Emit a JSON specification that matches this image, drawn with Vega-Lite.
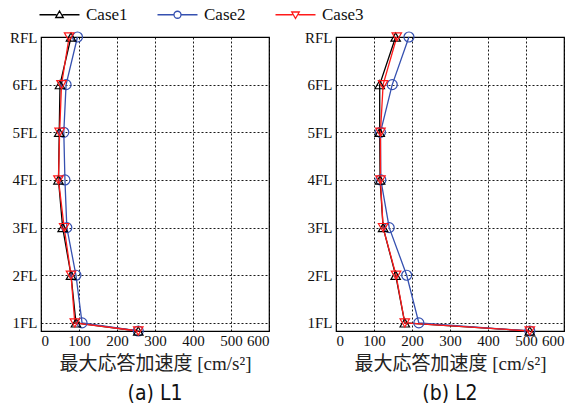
{
  "$schema": "https://vega.github.io/schema/vega-lite/v6.json",
  "padding": {"left": 8, "top": 6, "right": 5, "bottom": 0},
  "spacing": 33,
  "config": {
    "view": {"stroke": "#000000", "strokeWidth": 1.2},
    "axis": {
      "labelFont": "Liberation Serif",
      "labelFontSize": 15,
      "labelColor": "#111111",
      "ticks": false,
      "domain": false,
      "grid": true,
      "gridColor": "#000000",
      "gridDash": [2, 2],
      "gridWidth": 0.9,
      "gridOpacity": 1,
      "titleFont": "Liberation Serif, Noto Sans CJK JP",
      "titleFontSize": 19,
      "titleFontWeight": "normal",
      "titleColor": "#222222"
    },
    "legend": {
      "title": null, "labelFont": "Liberation Serif", "labelFontSize": 17, "labelColor": "#111111",
      "symbolStrokeWidth": 1.3, "symbolSize": 100, "symbolOpacity": 1
    },
    "title": {"font": "DejaVu Sans Condensed, Noto Sans", "fontSize": 21, "fontWeight": "normal", "color": "#111111"}
  },
  "data": {"values": [
    {"panel": "L1", "case": "Case1", "level": 0.83, "acc": 256},
    {"panel": "L1", "case": "Case1", "level": 1, "acc": 92},
    {"panel": "L1", "case": "Case1", "level": 2, "acc": 79},
    {"panel": "L1", "case": "Case1", "level": 3, "acc": 57},
    {"panel": "L1", "case": "Case1", "level": 4, "acc": 46},
    {"panel": "L1", "case": "Case1", "level": 5, "acc": 48},
    {"panel": "L1", "case": "Case1", "level": 6, "acc": 50},
    {"panel": "L1", "case": "Case1", "level": 7, "acc": 79},
    {"panel": "L1", "case": "Case2", "level": 0.83, "acc": 256},
    {"panel": "L1", "case": "Case2", "level": 1, "acc": 108},
    {"panel": "L1", "case": "Case2", "level": 2, "acc": 92},
    {"panel": "L1", "case": "Case2", "level": 3, "acc": 68},
    {"panel": "L1", "case": "Case2", "level": 4, "acc": 63},
    {"panel": "L1", "case": "Case2", "level": 5, "acc": 60},
    {"panel": "L1", "case": "Case2", "level": 6, "acc": 66},
    {"panel": "L1", "case": "Case2", "level": 7, "acc": 96},
    {"panel": "L1", "case": "Case3", "level": 0.83, "acc": 256},
    {"panel": "L1", "case": "Case3", "level": 1, "acc": 89},
    {"panel": "L1", "case": "Case3", "level": 2, "acc": 79},
    {"panel": "L1", "case": "Case3", "level": 3, "acc": 61},
    {"panel": "L1", "case": "Case3", "level": 4, "acc": 46},
    {"panel": "L1", "case": "Case3", "level": 5, "acc": 49},
    {"panel": "L1", "case": "Case3", "level": 6, "acc": 54},
    {"panel": "L1", "case": "Case3", "level": 7, "acc": 74},
    {"panel": "L2", "case": "Case1", "level": 0.83, "acc": 510},
    {"panel": "L2", "case": "Case1", "level": 1, "acc": 181},
    {"panel": "L2", "case": "Case1", "level": 2, "acc": 157},
    {"panel": "L2", "case": "Case1", "level": 3, "acc": 124},
    {"panel": "L2", "case": "Case1", "level": 4, "acc": 116},
    {"panel": "L2", "case": "Case1", "level": 5, "acc": 115},
    {"panel": "L2", "case": "Case1", "level": 6, "acc": 115},
    {"panel": "L2", "case": "Case1", "level": 7, "acc": 157},
    {"panel": "L2", "case": "Case2", "level": 0.83, "acc": 510},
    {"panel": "L2", "case": "Case2", "level": 1, "acc": 218},
    {"panel": "L2", "case": "Case2", "level": 2, "acc": 186},
    {"panel": "L2", "case": "Case2", "level": 3, "acc": 140},
    {"panel": "L2", "case": "Case2", "level": 4, "acc": 118},
    {"panel": "L2", "case": "Case2", "level": 5, "acc": 117},
    {"panel": "L2", "case": "Case2", "level": 6, "acc": 148},
    {"panel": "L2", "case": "Case2", "level": 7, "acc": 192},
    {"panel": "L2", "case": "Case3", "level": 0.83, "acc": 510},
    {"panel": "L2", "case": "Case3", "level": 1, "acc": 181},
    {"panel": "L2", "case": "Case3", "level": 2, "acc": 158},
    {"panel": "L2", "case": "Case3", "level": 3, "acc": 124},
    {"panel": "L2", "case": "Case3", "level": 4, "acc": 117},
    {"panel": "L2", "case": "Case3", "level": 5, "acc": 117},
    {"panel": "L2", "case": "Case3", "level": 6, "acc": 124},
    {"panel": "L2", "case": "Case3", "level": 7, "acc": 160}
  ]},
  "hconcat": [
    {
      "width": 228,
      "height": 294,
      "title": {"text": "(a) L1", "orient": "bottom", "offset": 10},
      "transform": [{"filter": "datum.panel === 'L1'"}],
      "encoding": {
        "x": {"field": "acc", "type": "quantitative", "scale": {"domain": [0, 600], "nice": false}, "axis": {"values": [0, 100, 200, 300, 400, 500, 600], "title": "最大応答加速度 [cm/s²]", "labelPadding": 2, "titlePadding": 6}},
        "y": {"field": "level", "type": "quantitative", "scale": {"domain": [0.83, 7], "nice": false, "zero": false}, "axis": {"values": [1, 2, 3, 4, 5, 6, 7], "labelExpr": "datum.value == 7 ? 'RFL' : datum.value + 'FL'", "title": null, "labelPadding": 4}},
        "color": {"field": "case", "type": "nominal", "scale": {"domain": ["Case1", "Case2", "Case3"], "range": ["#000000", "#3550b0", "#ff1a1a"]},
          "legend": {"orient": "none", "legendX": 10, "legendY": -31, "direction": "horizontal", "columns": 3, "columnPadding": 26, "labelOffset": 18}},
        "order": {"field": "level", "type": "quantitative"}
      },
      "layer": [
        {"mark": {"type": "line", "strokeWidth": 1.3}},
        {"transform": [{"filter": "datum.case === 'Case2'"}], "mark": {"type": "point", "shape": "circle", "filled": false, "size": 100, "strokeWidth": 1.2, "opacity": 1}},
        {"transform": [{"filter": "datum.case === 'Case1'"}], "mark": {"type": "point", "shape": "triangle-up", "filled": false, "size": 90, "strokeWidth": 1.2, "opacity": 1}},
        {"transform": [{"filter": "datum.case === 'Case3'"}], "mark": {"type": "point", "shape": "triangle-down", "filled": false, "size": 90, "strokeWidth": 1.2, "opacity": 1}},
        {"mark": {"type": "point", "filled": false, "size": 100, "strokeWidth": 1.3, "opacity": 0},
         "encoding": {"shape": {"field": "case", "type": "nominal", "scale": {"domain": ["Case1", "Case2", "Case3"], "range": ["M-4,0L-0.6,0M0.6,0L4,0M0,-0.75L0.75,0.55L-0.75,0.55Z", "M-4,0L-0.7,0M0.7,0L4,0M-0.7,0A0.7,0.7 0 1,0 0.7,0A0.7,0.7 0 1,0 -0.7,0", "M-4,0L-0.6,0M0.6,0L4,0M0,0.75L0.75,-0.55L-0.75,-0.55Z"]},
           "legend": {"orient": "none", "legendX": 10, "legendY": -31, "direction": "horizontal", "columns": 3, "columnPadding": 26, "labelOffset": 18}}}}
      ]
    },
    {
      "width": 228,
      "height": 294,
      "title": {"text": "(b) L2", "orient": "bottom", "offset": 10},
      "transform": [{"filter": "datum.panel === 'L2'"}],
      "encoding": {
        "x": {"field": "acc", "type": "quantitative", "scale": {"domain": [0, 600], "nice": false}, "axis": {"values": [0, 100, 200, 300, 400, 500, 600], "title": "最大応答加速度 [cm/s²]", "labelPadding": 2, "titlePadding": 6}},
        "y": {"field": "level", "type": "quantitative", "scale": {"domain": [0.83, 7], "nice": false, "zero": false}, "axis": {"values": [1, 2, 3, 4, 5, 6, 7], "labelExpr": "datum.value == 7 ? 'RFL' : datum.value + 'FL'", "title": null, "labelPadding": 4}},
        "color": {"field": "case", "type": "nominal", "scale": {"domain": ["Case1", "Case2", "Case3"], "range": ["#000000", "#3550b0", "#ff1a1a"]},
          "legend": {"orient": "none", "legendX": 10, "legendY": -31, "direction": "horizontal", "columns": 3, "columnPadding": 26, "labelOffset": 18}},
        "order": {"field": "level", "type": "quantitative"}
      },
      "layer": [
        {"mark": {"type": "line", "strokeWidth": 1.3}},
        {"transform": [{"filter": "datum.case === 'Case2'"}], "mark": {"type": "point", "shape": "circle", "filled": false, "size": 100, "strokeWidth": 1.2, "opacity": 1}},
        {"transform": [{"filter": "datum.case === 'Case1'"}], "mark": {"type": "point", "shape": "triangle-up", "filled": false, "size": 90, "strokeWidth": 1.2, "opacity": 1}},
        {"transform": [{"filter": "datum.case === 'Case3'"}], "mark": {"type": "point", "shape": "triangle-down", "filled": false, "size": 90, "strokeWidth": 1.2, "opacity": 1}},
        {"mark": {"type": "point", "filled": false, "size": 100, "strokeWidth": 1.3, "opacity": 0},
         "encoding": {"shape": {"field": "case", "type": "nominal", "scale": {"domain": ["Case1", "Case2", "Case3"], "range": ["M-4,0L-0.6,0M0.6,0L4,0M0,-0.75L0.75,0.55L-0.75,0.55Z", "M-4,0L-0.7,0M0.7,0L4,0M-0.7,0A0.7,0.7 0 1,0 0.7,0A0.7,0.7 0 1,0 -0.7,0", "M-4,0L-0.6,0M0.6,0L4,0M0,0.75L0.75,-0.55L-0.75,-0.55Z"]},
           "legend": {"orient": "none", "legendX": 10, "legendY": -31, "direction": "horizontal", "columns": 3, "columnPadding": 26, "labelOffset": 18}}}}
      ]
    }
  ]
}
